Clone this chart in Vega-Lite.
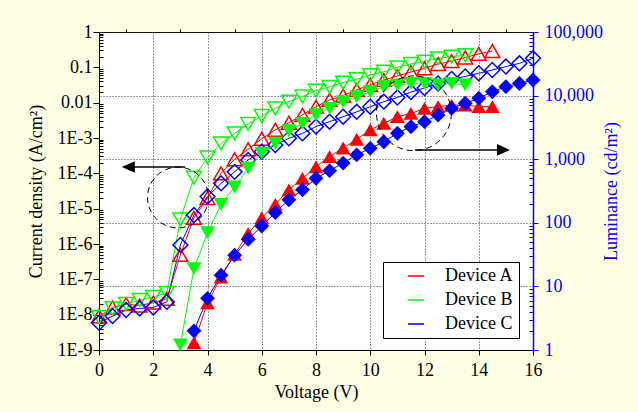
{
  "$schema": "https://vega.github.io/schema/vega-lite/v6.json",
  "width": 434,
  "height": 318,
  "autosize": {"type": "none"},
  "padding": {"left": 99, "top": 32, "right": 105, "bottom": 62},
  "background": "#FFFFE5",
  "config": {
    "font": "Liberation Serif",
    "view": {"fill": "white", "stroke": "black", "strokeWidth": 1},
    "axis": {
      "labelFont": "Liberation Serif",
      "titleFont": "Liberation Serif",
      "labelFontSize": 18,
      "titleFontSize": 18,
      "titleFontWeight": "normal",
      "labelColor": "black",
      "titleColor": "black",
      "domainColor": "black",
      "tickColor": "black",
      "gridColor": "#333333",
      "gridDash": [1, 2],
      "gridOpacity": 1,
      "labelFlush": false,
      "labelOverlap": false
    }
  },
  "datasets": {
    "J": [
      {"V": 0, "device": "Device A", "J": 9e-9}, {"V": 0.5, "device": "Device A", "J": 1.6e-8}, {"V": 1, "device": "Device A", "J": 2e-8}, {"V": 1.5, "device": "Device A", "J": 1.8e-8}, {"V": 2, "device": "Device A", "J": 2.2e-8}, {"V": 2.5, "device": "Device A", "J": 2.8e-8}, {"V": 3, "device": "Device A", "J": 4.9e-7}, {"V": 3.5, "device": "Device A", "J": 5.5e-6}, {"V": 4, "device": "Device A", "J": 2e-5}, {"V": 4.5, "device": "Device A", "J": 1e-4}, {"V": 5, "device": "Device A", "J": 2.5e-4}, {"V": 5.5, "device": "Device A", "J": 4.8e-4}, {"V": 6, "device": "Device A", "J": 9.5e-4}, {"V": 6.5, "device": "Device A", "J": 1.7e-3}, {"V": 7, "device": "Device A", "J": 2.7e-3}, {"V": 7.5, "device": "Device A", "J": 4.5e-3}, {"V": 8, "device": "Device A", "J": 7.7e-3}, {"V": 8.5, "device": "Device A", "J": 1.2e-2}, {"V": 9, "device": "Device A", "J": 1.6e-2}, {"V": 9.5, "device": "Device A", "J": 2.3e-2}, {"V": 10, "device": "Device A", "J": 3.2e-2}, {"V": 10.5, "device": "Device A", "J": 4.4e-2}, {"V": 11, "device": "Device A", "J": 5.7e-2}, {"V": 11.5, "device": "Device A", "J": 7.4e-2}, {"V": 12, "device": "Device A", "J": 9.4e-2}, {"V": 12.5, "device": "Device A", "J": 0.124}, {"V": 13, "device": "Device A", "J": 0.15}, {"V": 13.5, "device": "Device A", "J": 0.19}, {"V": 14, "device": "Device A", "J": 0.24}, {"V": 14.5, "device": "Device A", "J": 0.29},
      {"V": 0, "device": "Device B", "J": 8.5e-9}, {"V": 0.5, "device": "Device B", "J": 1.5e-8}, {"V": 1, "device": "Device B", "J": 2e-8}, {"V": 1.5, "device": "Device B", "J": 2.6e-8}, {"V": 2, "device": "Device B", "J": 3.2e-8}, {"V": 2.5, "device": "Device B", "J": 4.1e-8}, {"V": 3, "device": "Device B", "J": 5e-6}, {"V": 3.5, "device": "Device B", "J": 7.5e-5}, {"V": 4, "device": "Device B", "J": 2.8e-4}, {"V": 4.5, "device": "Device B", "J": 7e-4}, {"V": 5, "device": "Device B", "J": 1.35e-3}, {"V": 5.5, "device": "Device B", "J": 2.5e-3}, {"V": 6, "device": "Device B", "J": 4.2e-3}, {"V": 6.5, "device": "Device B", "J": 6.9e-3}, {"V": 7, "device": "Device B", "J": 1.07e-2}, {"V": 7.5, "device": "Device B", "J": 1.5e-2}, {"V": 8, "device": "Device B", "J": 2.2e-2}, {"V": 8.5, "device": "Device B", "J": 2.8e-2}, {"V": 9, "device": "Device B", "J": 3.7e-2}, {"V": 9.5, "device": "Device B", "J": 4.6e-2}, {"V": 10, "device": "Device B", "J": 6e-2}, {"V": 10.5, "device": "Device B", "J": 7.5e-2}, {"V": 11, "device": "Device B", "J": 0.1}, {"V": 11.5, "device": "Device B", "J": 0.125}, {"V": 12, "device": "Device B", "J": 0.145}, {"V": 12.5, "device": "Device B", "J": 0.18}, {"V": 13, "device": "Device B", "J": 0.2}, {"V": 13.5, "device": "Device B", "J": 0.22},
      {"V": 0, "device": "Device C", "J": 5.9e-9}, {"V": 0.5, "device": "Device C", "J": 9.1e-9}, {"V": 1, "device": "Device C", "J": 1.35e-8}, {"V": 1.5, "device": "Device C", "J": 1.5e-8}, {"V": 2, "device": "Device C", "J": 1.6e-8}, {"V": 2.5, "device": "Device C", "J": 2.3e-8}, {"V": 3, "device": "Device C", "J": 9.4e-7}, {"V": 3.5, "device": "Device C", "J": 6.6e-6}, {"V": 4, "device": "Device C", "J": 2.2e-5}, {"V": 4.5, "device": "Device C", "J": 5.2e-5}, {"V": 5, "device": "Device C", "J": 1.1e-4}, {"V": 5.5, "device": "Device C", "J": 2.4e-4}, {"V": 6, "device": "Device C", "J": 4.1e-4}, {"V": 6.5, "device": "Device C", "J": 6.3e-4}, {"V": 7, "device": "Device C", "J": 9.8e-4}, {"V": 7.5, "device": "Device C", "J": 1.35e-3}, {"V": 8, "device": "Device C", "J": 2.1e-3}, {"V": 8.5, "device": "Device C", "J": 2.9e-3}, {"V": 9, "device": "Device C", "J": 4e-3}, {"V": 9.5, "device": "Device C", "J": 5.5e-3}, {"V": 10, "device": "Device C", "J": 7.7e-3}, {"V": 10.5, "device": "Device C", "J": 1.07e-2}, {"V": 11, "device": "Device C", "J": 1.4e-2}, {"V": 11.5, "device": "Device C", "J": 2e-2}, {"V": 12, "device": "Device C", "J": 2.6e-2}, {"V": 12.5, "device": "Device C", "J": 3.5e-2}, {"V": 13, "device": "Device C", "J": 4.7e-2}, {"V": 13.5, "device": "Device C", "J": 5.5e-2}, {"V": 14, "device": "Device C", "J": 6.8e-2}, {"V": 14.5, "device": "Device C", "J": 8.4e-2}, {"V": 15, "device": "Device C", "J": 0.105}, {"V": 15.5, "device": "Device C", "J": 0.13}, {"V": 16, "device": "Device C", "J": 0.18}
    ],
    "L": [
      {"V": 3.5, "device": "Device A", "L": 1.3}, {"V": 4, "device": "Device A", "L": 5.5}, {"V": 4.5, "device": "Device A", "L": 14}, {"V": 5, "device": "Device A", "L": 32}, {"V": 5.5, "device": "Device A", "L": 68}, {"V": 6, "device": "Device A", "L": 120}, {"V": 6.5, "device": "Device A", "L": 195}, {"V": 7, "device": "Device A", "L": 330}, {"V": 7.5, "device": "Device A", "L": 500}, {"V": 8, "device": "Device A", "L": 760}, {"V": 8.5, "device": "Device A", "L": 1100}, {"V": 9, "device": "Device A", "L": 1500}, {"V": 9.5, "device": "Device A", "L": 2050}, {"V": 10, "device": "Device A", "L": 2890}, {"V": 10.5, "device": "Device A", "L": 3670}, {"V": 11, "device": "Device A", "L": 4660}, {"V": 11.5, "device": "Device A", "L": 5240}, {"V": 12, "device": "Device A", "L": 6300}, {"V": 12.5, "device": "Device A", "L": 6700}, {"V": 13, "device": "Device A", "L": 7100}, {"V": 13.5, "device": "Device A", "L": 7100}, {"V": 14, "device": "Device A", "L": 6700}, {"V": 14.5, "device": "Device A", "L": 6700},
      {"V": 3, "device": "Device B", "L": 1.2}, {"V": 3.5, "device": "Device B", "L": 19}, {"V": 4, "device": "Device B", "L": 70}, {"V": 4.5, "device": "Device B", "L": 195}, {"V": 5, "device": "Device B", "L": 365}, {"V": 5.5, "device": "Device B", "L": 720}, {"V": 6, "device": "Device B", "L": 1240}, {"V": 6.5, "device": "Device B", "L": 1780}, {"V": 7, "device": "Device B", "L": 2800}, {"V": 7.5, "device": "Device B", "L": 3650}, {"V": 8, "device": "Device B", "L": 5000}, {"V": 8.5, "device": "Device B", "L": 6300}, {"V": 9, "device": "Device B", "L": 8000}, {"V": 9.5, "device": "Device B", "L": 9600}, {"V": 10, "device": "Device B", "L": 11500}, {"V": 10.5, "device": "Device B", "L": 13800}, {"V": 11, "device": "Device B", "L": 14700}, {"V": 11.5, "device": "Device B", "L": 15600}, {"V": 12, "device": "Device B", "L": 15600}, {"V": 12.5, "device": "Device B", "L": 14700}, {"V": 13, "device": "Device B", "L": 15600}, {"V": 13.5, "device": "Device B", "L": 14700},
      {"V": 3.5, "device": "Device C", "L": 2}, {"V": 4, "device": "Device C", "L": 6.5}, {"V": 4.5, "device": "Device C", "L": 15}, {"V": 5, "device": "Device C", "L": 31}, {"V": 5.5, "device": "Device C", "L": 55}, {"V": 6, "device": "Device C", "L": 89}, {"V": 6.5, "device": "Device C", "L": 145}, {"V": 7, "device": "Device C", "L": 230}, {"V": 7.5, "device": "Device C", "L": 330}, {"V": 8, "device": "Device C", "L": 500}, {"V": 8.5, "device": "Device C", "L": 660}, {"V": 9, "device": "Device C", "L": 870}, {"V": 9.5, "device": "Device C", "L": 1170}, {"V": 10, "device": "Device C", "L": 1480}, {"V": 10.5, "device": "Device C", "L": 1880}, {"V": 11, "device": "Device C", "L": 2560}, {"V": 11.5, "device": "Device C", "L": 3240}, {"V": 12, "device": "Device C", "L": 3890}, {"V": 12.5, "device": "Device C", "L": 4950}, {"V": 13, "device": "Device C", "L": 6300}, {"V": 13.5, "device": "Device C", "L": 7570}, {"V": 14, "device": "Device C", "L": 9100}, {"V": 14.5, "device": "Device C", "L": 11500}, {"V": 15, "device": "Device C", "L": 13800}, {"V": 15.5, "device": "Device C", "L": 15500}, {"V": 16, "device": "Device C", "L": 17600}
    ]
  },
  "layer": [
    {
      "data": {"name": "J"},
      "layer": [
        {
          "mark": {"type": "line", "strokeWidth": 1},
          "encoding": {
            "x": {"field": "V", "type": "quantitative", "scale": {"domain": [0, 16], "nice": false},
              "axis": {"values": [0, 2, 4, 6, 8, 10, 12, 14, 16], "title": "Voltage (V)", "grid": true, "tickSize": 5, "labelPadding": 6, "titlePadding": 4}},
            "y": {"field": "J", "type": "quantitative", "scale": {"type": "log", "domain": [1e-9, 1], "nice": false},
              "axis": {"orient": "left", "values": [1e-9, 1e-8, 1e-7, 1e-6, 1e-5, 1e-4, 1e-3, 0.01, 0.1, 1], "labelExpr": "datum.value >= 0.01 ? '' + datum.value : '1E-' + round(-log(datum.value) / LN10)", "title": "Current density (A/cm²)", "grid": false, "tickSize": 6, "labelPadding": 1, "titlePadding": 12}},
            "color": {"field": "device", "type": "nominal", "scale": {"domain": ["Device A", "Device B", "Device C"], "range": ["#FF0000", "#00FF00", "#0000FF"]}}
          }
        },
        {
          "mark": {"type": "point", "filled": false, "size": 220, "strokeWidth": 1.5, "opacity": 1, "shape": "triangle-up"},
          "transform": [{"filter": "datum.device === 'Device A'"}],
          "encoding": {
            "x": {"field": "V", "type": "quantitative", "scale": {"domain": [0, 16], "nice": false},
              "axis": {"values": [1, 3, 5, 7, 9, 11, 13, 15], "labels": false, "domain": false, "grid": false, "tickSize": 3, "title": null}},
            "y": {"field": "J", "type": "quantitative", "scale": {"type": "log", "domain": [1e-9, 1], "nice": false},
              "axis": {"orient": "left", "values": [2e-9, 3e-9, 4e-9, 5e-9, 6e-9, 7e-9, 8e-9, 9e-9, 2e-8, 3e-8, 4e-8, 5e-8, 6e-8, 7e-8, 8e-8, 9e-8, 2e-7, 3e-7, 4e-7, 5e-7, 6e-7, 7e-7, 8e-7, 9e-7, 2e-6, 3e-6, 4e-6, 5e-6, 6e-6, 7e-6, 8e-6, 9e-6, 2e-5, 3e-5, 4e-5, 5e-5, 6e-5, 7e-5, 8e-5, 9e-5, 2e-4, 3e-4, 4e-4, 5e-4, 6e-4, 7e-4, 8e-4, 9e-4, 2e-3, 3e-3, 4e-3, 5e-3, 6e-3, 7e-3, 8e-3, 9e-3, 0.02, 0.03, 0.04, 0.05, 0.06, 0.07, 0.08, 0.09, 0.2, 0.3, 0.4, 0.5, 0.6, 0.7, 0.8, 0.9], "labels": false, "domain": false, "grid": false, "tickSize": -4, "title": null}},
            "color": {"field": "device", "type": "nominal", "scale": {"domain": ["Device A", "Device B", "Device C"], "range": ["#FF0000", "#00FF00", "#0000FF"]}}
          }
        },
        {
          "mark": {"type": "point", "filled": false, "size": 220, "strokeWidth": 1.5, "opacity": 1, "shape": "triangle-down"},
          "transform": [{"filter": "datum.device === 'Device B'"}],
          "encoding": {
            "x": {"field": "V", "type": "quantitative", "scale": {"domain": [0, 16], "nice": false}, "axis": null},
            "y": {"field": "J", "type": "quantitative", "scale": {"type": "log", "domain": [1e-9, 1], "nice": false}, "axis": null},
            "color": {"field": "device", "type": "nominal", "scale": {"domain": ["Device A", "Device B", "Device C"], "range": ["#FF0000", "#00FF00", "#0000FF"]}}
          }
        },
        {
          "mark": {"type": "point", "filled": false, "size": 220, "strokeWidth": 1.5, "opacity": 1, "shape": "diamond"},
          "transform": [{"filter": "datum.device === 'Device C'"}],
          "encoding": {
            "x": {"field": "V", "type": "quantitative", "scale": {"domain": [0, 16], "nice": false}, "axis": null},
            "y": {"field": "J", "type": "quantitative", "scale": {"type": "log", "domain": [1e-9, 1], "nice": false}, "axis": null},
            "color": {"field": "device", "type": "nominal", "scale": {"domain": ["Device A", "Device B", "Device C"], "range": ["#FF0000", "#00FF00", "#0000FF"]}}
          }
        }
      ],
      "resolve": {"axis": {"x": "independent", "y": "independent"}}
    },
    {
      "data": {"name": "L"},
      "layer": [
        {
          "mark": {"type": "line", "strokeWidth": 1},
          "encoding": {
            "x": {"field": "V", "type": "quantitative", "scale": {"domain": [0, 16], "nice": false}, "axis": null},
            "y": {"field": "L", "type": "quantitative", "scale": {"type": "log", "domain": [1, 100000], "nice": false},
              "axis": {"orient": "right", "values": [1, 10, 100, 1000, 10000, 100000], "format": ",", "title": "Luminance (cd/m²)", "grid": true, "tickSize": 5, "labelPadding": 6, "titlePadding": 18, "titleAngle": 270, "labelColor": "#0000FF", "titleColor": "#0000FF", "tickColor": "#0000FF", "domainColor": "#0000FF", "domainWidth": 1.5}},
            "color": {"field": "device", "type": "nominal", "scale": {"domain": ["Device A", "Device B", "Device C"], "range": ["#FF0000", "#00FF00", "#0000FF"]}}
          }
        },
        {
          "mark": {"type": "point", "filled": true, "size": 220, "opacity": 1, "shape": "triangle-up"},
          "transform": [{"filter": "datum.device === 'Device A'"}],
          "encoding": {
            "x": {"field": "V", "type": "quantitative", "scale": {"domain": [0, 16], "nice": false}, "axis": null},
            "y": {"field": "L", "type": "quantitative", "scale": {"type": "log", "domain": [1, 100000], "nice": false},
              "axis": {"orient": "right", "values": [2, 3, 4, 5, 6, 7, 8, 9, 20, 30, 40, 50, 60, 70, 80, 90, 200, 300, 400, 500, 600, 700, 800, 900, 2000, 3000, 4000, 5000, 6000, 7000, 8000, 9000, 20000, 30000, 40000, 50000, 60000, 70000, 80000, 90000], "labels": false, "domain": false, "grid": false, "tickSize": -4, "tickColor": "#0000FF", "title": null}},
            "color": {"field": "device", "type": "nominal", "scale": {"domain": ["Device A", "Device B", "Device C"], "range": ["#FF0000", "#00FF00", "#0000FF"]},
              "legend": {
                "orient": "none", "legendX": 284, "legendY": 230, "title": null,
                "padding": 5, "strokeColor": "black", "fillColor": "white", "cornerRadius": 0,
                "symbolSize": 256, "symbolOffset": 19, "labelOffset": 20, "rowPadding": 6,
                "labelFont": "Liberation Serif", "labelFontSize": 18, "labelColor": "black",
                "labelExpr": "datum.label + '\u00a0\u00a0\u00a0\u00a0'",
                "encode": {"symbols": {
                  "shape": {"value": {"expr": "datum.value === 'Device A' ? 'M-2.9,0H2.9M0,-0.8L1,0.75L-1,0.75Z' : datum.value === 'Device B' ? 'M-2.9,0H2.9M0,0.8L1,-0.75L-1,-0.75Z' : 'M-2.9,0H2.9M0,-0.85L0.85,0L0,0.85L-0.85,0Z'"}},
                  "fill": {"value": {"expr": "datum.value === 'Device A' ? '#FF0000' : datum.value === 'Device B' ? '#00FF00' : '#0000FF'"}},
                  "stroke": {"value": {"expr": "datum.value === 'Device A' ? '#FF0000' : datum.value === 'Device B' ? '#00FF00' : '#0000FF'"}},
                  "strokeWidth": {"value": 1},
                  "opacity": {"value": 1}
                }}
              }}
          }
        },
        {
          "mark": {"type": "point", "filled": true, "size": 220, "opacity": 1, "shape": "triangle-down"},
          "transform": [{"filter": "datum.device === 'Device B'"}],
          "encoding": {
            "x": {"field": "V", "type": "quantitative", "scale": {"domain": [0, 16], "nice": false}, "axis": null},
            "y": {"field": "L", "type": "quantitative", "scale": {"type": "log", "domain": [1, 100000], "nice": false}, "axis": null},
            "color": {"field": "device", "type": "nominal", "scale": {"domain": ["Device A", "Device B", "Device C"], "range": ["#FF0000", "#00FF00", "#0000FF"]}}
          }
        },
        {
          "mark": {"type": "point", "filled": true, "size": 220, "opacity": 1, "shape": "diamond"},
          "transform": [{"filter": "datum.device === 'Device C'"}],
          "encoding": {
            "x": {"field": "V", "type": "quantitative", "scale": {"domain": [0, 16], "nice": false}, "axis": null},
            "y": {"field": "L", "type": "quantitative", "scale": {"type": "log", "domain": [1, 100000], "nice": false}, "axis": null},
            "color": {"field": "device", "type": "nominal", "scale": {"domain": ["Device A", "Device B", "Device C"], "range": ["#FF0000", "#00FF00", "#0000FF"]}}
          }
        }
      ],
      "resolve": {"axis": {"y": "independent"}}
    },
    {
      "layer": [
        {
          "data": {"values": [{"V": 2.91, "J": 2.07e-5}]},
          "mark": {"type": "point", "shape": "circle", "filled": false, "size": 3700, "stroke": "black", "strokeWidth": 1, "strokeDash": [6, 4], "opacity": 1},
          "encoding": {
            "x": {"field": "V", "type": "quantitative", "scale": {"domain": [0, 16], "nice": false}, "axis": null},
            "y": {"field": "J", "type": "quantitative", "scale": {"type": "log", "domain": [1e-9, 1], "nice": false}, "axis": null}
          }
        },
        {
          "data": {"values": [{"V": 11.61, "J": 5.0e-3}]},
          "mark": {"type": "point", "shape": "circle", "filled": false, "size": 5600, "stroke": "black", "strokeWidth": 1, "strokeDash": [6, 4], "opacity": 1},
          "encoding": {
            "x": {"field": "V", "type": "quantitative", "scale": {"domain": [0, 16], "nice": false}, "axis": null},
            "y": {"field": "J", "type": "quantitative", "scale": {"type": "log", "domain": [1e-9, 1], "nice": false}, "axis": null}
          }
        },
        {
          "data": {"values": [{"V1": 1.0, "V2": 3.17, "J": 1.51e-4}, {"V1": 11.65, "V2": 14.8, "J": 4.6e-4}]},
          "mark": {"type": "rule", "stroke": "black", "strokeWidth": 1.5},
          "encoding": {
            "x": {"field": "V1", "type": "quantitative", "scale": {"domain": [0, 16], "nice": false}, "axis": null},
            "x2": {"field": "V2"},
            "y": {"field": "J", "type": "quantitative", "scale": {"type": "log", "domain": [1e-9, 1], "nice": false}, "axis": null}
          }
        },
        {
          "data": {"values": [{"V": 1.08, "J": 1.51e-4}]},
          "mark": {"type": "point", "shape": "M-1,0L1,-0.9L1,0.9Z", "filled": true, "size": 169, "color": "black", "opacity": 1},
          "encoding": {
            "x": {"field": "V", "type": "quantitative", "scale": {"domain": [0, 16], "nice": false}, "axis": null},
            "y": {"field": "J", "type": "quantitative", "scale": {"type": "log", "domain": [1e-9, 1], "nice": false}, "axis": null}
          }
        },
        {
          "data": {"values": [{"V": 14.91, "J": 4.6e-4}]},
          "mark": {"type": "point", "shape": "M1,0L-1,-0.9L-1,0.9Z", "filled": true, "size": 169, "color": "black", "opacity": 1},
          "encoding": {
            "x": {"field": "V", "type": "quantitative", "scale": {"domain": [0, 16], "nice": false}, "axis": null},
            "y": {"field": "J", "type": "quantitative", "scale": {"type": "log", "domain": [1e-9, 1], "nice": false}, "axis": null}
          }
        }
      ]
    }
  ],
  "resolve": {"scale": {"y": "independent"}, "axis": {"x": "independent"}}
}
